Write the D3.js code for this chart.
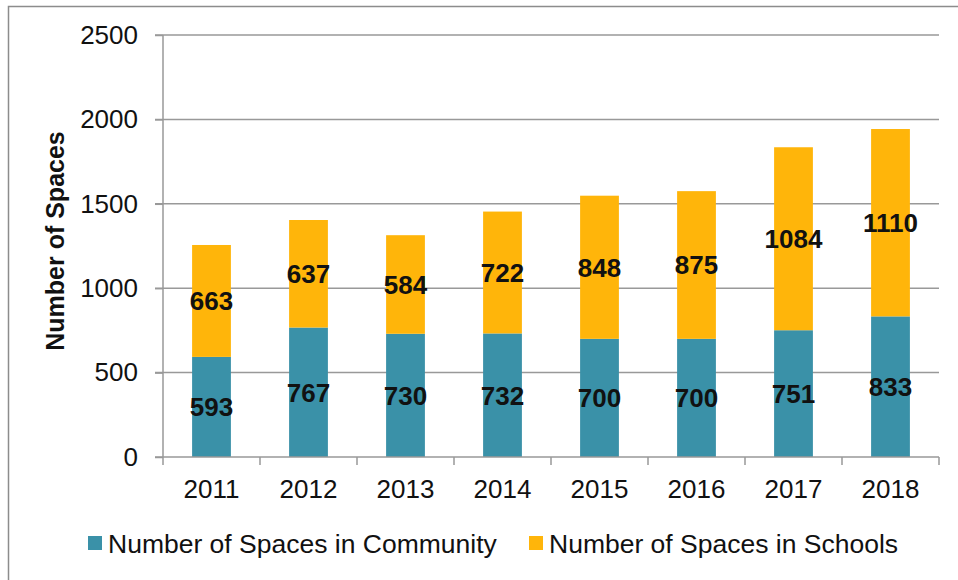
<!DOCTYPE html>
<html>
<head>
<meta charset="utf-8">
<script src="https://cdn.jsdelivr.net/npm/d3@7"></script>
<style>
  body { margin: 0; background: #fff; }
  svg { font-family: "Liberation Sans", Arial, sans-serif; }
</style>
</head>
<body>
<svg width="958" height="580"></svg>
<script>
var years = ["2011","2012","2013","2014","2015","2016","2017","2018"];
var community = [593, 767, 730, 732, 700, 700, 751, 833];
var schools = [663, 637, 584, 722, 848, 875, 1084, 1110];
var yTicks = [0, 500, 1000, 1500, 2000, 2500];
var seriesNames = ["Number of Spaces in Community", "Number of Spaces in Schools"];
var colors = ["#3A91A8", "#FFB50A"];

var margins = { top: 35, left: 163, right: 19, bottom: 123 };
var width = 958 - margins.left - margins.right;
var height = 580 - margins.top - margins.bottom;

var svg = d3.select("svg");

// outer frame
svg.append("rect")
  .attr("x", 8.5).attr("y", 6.5)
  .attr("width", 1000).attr("height", 1000)
  .attr("fill", "none")
  .attr("stroke", "#8c8c8c")
  .attr("stroke-width", 1.5);

var g = svg.append("g")
  .attr("transform", "translate(" + margins.left + "," + margins.top + ")");

var xScale = d3.scaleBand()
  .domain(years)
  .range([0, width])
  .paddingInner(0.6)
  .paddingOuter(0.3);

var yScale = d3.scaleLinear()
  .domain([0, 2500])
  .range([height, 0]);

// gridlines
g.selectAll("line.grid")
  .data(yTicks.slice(1))
  .enter()
  .append("line")
  .attr("class", "grid")
  .attr("x1", -8).attr("x2", width)
  .attr("y1", function(d){ return yScale(d); })
  .attr("y2", function(d){ return yScale(d); })
  .attr("stroke", "#999")
  .attr("stroke-width", 1.5);

var stacked = years.map(function(y, i){
  return { year: y, community: community[i], schools: schools[i] };
});
var stack = d3.stack().keys(["community", "schools"]);
var layers = stack(stacked);

g.selectAll("g.layer")
  .data(layers)
  .enter()
  .append("g")
  .attr("class", "layer")
  .attr("fill", function(d, i){ return colors[i]; })
  .selectAll("rect")
  .data(function(d){ return d; })
  .enter()
  .append("rect")
  .attr("x", function(d){ return xScale(d.data.year); })
  .attr("width", xScale.bandwidth())
  .attr("y", function(d){ return yScale(d[1]); })
  .attr("height", function(d){ return yScale(d[0]) - yScale(d[1]); });

// value labels
layers.forEach(function(layer, li){
  g.selectAll("text.lab" + li)
    .data(layer)
    .enter()
    .append("text")
    .attr("class", "lab" + li)
    .attr("x", function(d){ return xScale(d.data.year) + xScale.bandwidth()/2; })
    .attr("y", function(d){ return (yScale(d[0]) + yScale(d[1]))/2; })
    .attr("dy", "0.36em")
    .attr("text-anchor", "middle")
    .attr("font-size", 26)
    .attr("font-weight", "bold")
    .attr("fill", "#111")
    .text(function(d){ return d[1] - d[0]; });
});

// y axis
var yAxis = d3.axisLeft(yScale).tickValues(yTicks).tickFormat(d3.format("d"))
  .tickSize(8).tickPadding(17);
var yg = g.append("g").call(yAxis);
yg.select(".domain").attr("stroke", "#999").attr("stroke-width", 1.5).attr("d", "M0," + height + "V0");
yg.selectAll(".tick line").attr("stroke", "#999").attr("stroke-width", 1.5);
yg.selectAll("text").attr("font-size", 26).attr("fill", "#111")
  .attr("font-family", "Liberation Sans, Arial, sans-serif");

// x axis
var xg = g.append("g").attr("transform", "translate(0," + height + ")")
  .call(d3.axisBottom(xScale).tickSize(0).tickPadding(23));
xg.select(".domain").attr("stroke", "#999").attr("stroke-width", 1.5).attr("d", "M-8,0H" + width);
xg.selectAll("text").attr("font-size", 26).attr("fill", "#111")
  .attr("font-family", "Liberation Sans, Arial, sans-serif");

// x separator ticks
g.selectAll("line.xtick")
  .data(d3.range(years.length + 1))
  .enter()
  .append("line")
  .attr("class", "xtick")
  .attr("x1", function(d){ return d * width / years.length; })
  .attr("x2", function(d){ return d * width / years.length; })
  .attr("y1", height).attr("y2", height + 8)
  .attr("stroke", "#999")
  .attr("stroke-width", 1.5);

// y title
svg.append("text")
  .attr("transform", "translate(64,241) rotate(-90)")
  .attr("text-anchor", "middle")
  .attr("font-size", 25)
  .attr("font-weight", "bold")
  .attr("fill", "#111")
  .text("Number of Spaces");

// legend
var legendX = [88, 529];
var legend = svg.selectAll("g.legend")
  .data(seriesNames)
  .enter()
  .append("g")
  .attr("class", "legend")
  .attr("transform", function(d, i){ return "translate(" + legendX[i] + ",536)"; });
legend.append("rect")
  .attr("width", 14).attr("height", 14)
  .attr("fill", function(d, i){ return colors[i]; });
legend.append("text")
  .attr("x", 20).attr("y", 7)
  .attr("dy", "0.36em")
  .attr("font-size", 26.5)
  .attr("fill", "#111")
  .text(function(d){ return d; });
</script>
</body>
</html>
